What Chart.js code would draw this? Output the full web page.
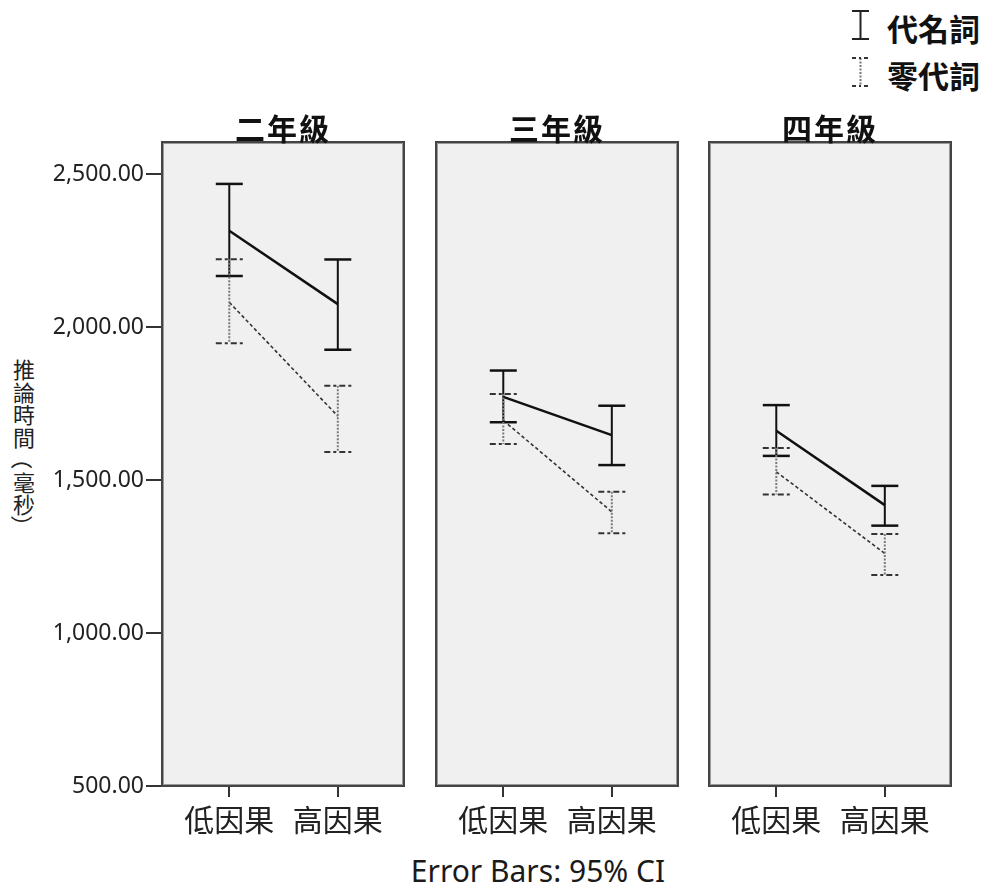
<!DOCTYPE html>
<html>
<head>
<meta charset="utf-8">
<script src="https://cdn.jsdelivr.net/npm/chart.js@4.4.1/dist/chart.umd.min.js"></script>
<style>
  body { margin: 0; background: #fff; width: 988px; height: 895px; position: relative; overflow: hidden;
         font-family: "Noto Sans CJK TC", "Noto Sans", sans-serif; color: #111; }
  canvas { position: absolute; top: 100px; }
  .title { position: absolute; top: 112px; width: 242px; text-align: center; font-size: 30px; line-height: 30px;
           font-weight: bold; letter-spacing: 2px; }
  .legend-text { position: absolute; left: 887px; font-size: 31px; line-height: 31px; font-weight: bold; }
  .legend-icon { position: absolute; left: 846px; }
  #ytitle { position: absolute; left: 12px; top: 357px; width: 24px; font-size: 22px; color: #222; }
  #ytitle span { display: block; height: 22.5px; line-height: 22.5px; text-align: center; }
  #ytitle span.rot { transform: rotate(90deg); }
  #footer { position: absolute; left: 0; width: 1076px; top: 851px; text-align: center; font-family: "Noto Sans", sans-serif;
            font-size: 30px; line-height: 40px; color: #1a1a1a; }
</style>
</head>
<body>
<div id="ytitle"></div>
<svg class="legend-icon" style="top:8px" width="30" height="36">
  <line x1="14.5" y1="3" x2="14.5" y2="31" stroke="#222" stroke-width="2"/>
  <line x1="6" y1="3" x2="23" y2="3" stroke="#222" stroke-width="2"/>
  <line x1="6" y1="31" x2="23" y2="31" stroke="#222" stroke-width="2"/>
</svg>
<svg class="legend-icon" style="top:55px" width="30" height="36">
  <line x1="14.5" y1="3" x2="14.5" y2="31" stroke="#777" stroke-width="2" stroke-dasharray="2 1.5"/>
  <line x1="6" y1="3" x2="23" y2="3" stroke="#333" stroke-width="2" stroke-dasharray="4 3 2 3"/>
  <line x1="6" y1="31" x2="23" y2="31" stroke="#333" stroke-width="2" stroke-dasharray="4 3 2 3"/>
</svg>
<div class="legend-text" style="top:12px">代名詞</div>
<div class="legend-text" style="top:59px">零代詞</div>
<div id="footer">Error Bars: 95% CI</div>

<script>
const GRADES = ['二年級', '三年級', '四年級'];
const CATEGORIES = ['低因果', '高因果'];
const SERIES = ['代名詞', '零代詞'];
const Y_TITLE = '推論時間（毫秒）';
const Y_TICKS = [500, 1000, 1500, 2000, 2500];

// per grade: [低因果, 高因果]
const PRONOUN_MEAN  = [[2315, 2075], [1772, 1647], [1661, 1418]];
const PRONOUN_UPPER = [[2468, 2221], [1858, 1743], [1745, 1481]];
const PRONOUN_LOWER = [[2167, 1926], [1689, 1549], [1579, 1351]];

const ZERO_MEAN  = [[2081, 1709], [1695, 1396], [1527, 1260]];
const ZERO_UPPER = [[2222, 1808], [1781, 1462], [1605, 1324]];
const ZERO_LOWER = [[1947, 1592], [1618, 1326], [1453, 1190]];

const PANEL_LEFT = [162, 436, 709];
const PANEL_WIDTH = 242;

// vertical axis title, one character per line, brackets turned
const ytitle = document.getElementById('ytitle');
Array.from(Y_TITLE).forEach(ch => {
  const s = document.createElement('span');
  s.textContent = ch;
  if (ch === '（' || ch === '）') s.className = 'rot';
  ytitle.appendChild(s);
});

// grey panel background and frame
const panelPlugin = {
  id: 'panel',
  beforeDatasetsDraw(chart) {
    const { ctx, chartArea: a } = chart;
    ctx.save();
    ctx.fillStyle = '#f0f0f0';
    ctx.fillRect(a.left, a.top, a.right - a.left, a.bottom - a.top);
    ctx.restore();
  },
  afterDraw(chart) {
    const { ctx, chartArea: a } = chart;
    ctx.save();
    ctx.strokeStyle = '#9a9a9a';
    ctx.lineWidth = 1;
    ctx.strokeRect(a.left + 1.5, a.top + 1.5, a.right - a.left - 3, a.bottom - a.top - 3);
    ctx.strokeStyle = '#444';
    ctx.lineWidth = 2;
    ctx.strokeRect(a.left, a.top, a.right - a.left, a.bottom - a.top);
    ctx.restore();
  }
};

// 95% CI bars drawn from the dataset's upper/lower arrays
const errorBarPlugin = {
  id: 'errorBars',
  afterDatasetsDraw(chart) {
    const ctx = chart.ctx;
    const xs = chart.scales.x, ys = chart.scales.y;
    chart.data.datasets.forEach(ds => {
      const st = ds.errStyle;
      ds.data.forEach((pt, i) => {
        const px = xs.getPixelForValue(pt.x);
        const top = ys.getPixelForValue(ds.errUpper[i]);
        const bot = ys.getPixelForValue(ds.errLower[i]);
        ctx.save();
        ctx.strokeStyle = st.stemColor;
        ctx.lineWidth = st.stemWidth;
        ctx.setLineDash(st.stemDash);
        ctx.beginPath();
        ctx.moveTo(px, top);
        ctx.lineTo(px, bot);
        ctx.stroke();
        ctx.strokeStyle = st.capColor;
        ctx.lineWidth = st.capWidth;
        ctx.setLineDash(st.capDash);
        [top, bot].forEach(yy => {
          ctx.beginPath();
          ctx.moveTo(px - 13.5, yy);
          ctx.lineTo(px + 13.5, yy);
          ctx.stroke();
        });
        ctx.restore();
      });
    });
  }
};

function points(means) {
  return means.map((v, i) => ({ x: i, y: v }));
}

function makePanel(g) {
  const first = g === 0;
  const canvasLeft = first ? 0 : PANEL_LEFT[g] - 16;
  const canvasWidth = first ? PANEL_LEFT[g] + PANEL_WIDTH + 8 : PANEL_WIDTH + 24;

  const canvas = document.createElement('canvas');
  canvas.width = canvasWidth;
  canvas.height = 745;
  canvas.style.left = canvasLeft + 'px';
  document.body.appendChild(canvas);

  const title = document.createElement('div');
  title.className = 'title';
  title.style.left = PANEL_LEFT[g] + 'px';
  title.innerText = GRADES[g];
  document.body.appendChild(title);

  new Chart(canvas.getContext('2d'), {
    type: 'line',
    data: {
      datasets: [
        {
          label: SERIES[0],
          data: points(PRONOUN_MEAN[g]),
          errUpper: PRONOUN_UPPER[g],
          errLower: PRONOUN_LOWER[g],
          errStyle: { stemColor: '#111', stemWidth: 2, stemDash: [], capColor: '#111', capWidth: 2.5, capDash: [] },
          borderColor: '#111',
          borderWidth: 2.5,
          pointRadius: 0,
        },
        {
          label: SERIES[1],
          data: points(ZERO_MEAN[g]),
          errUpper: ZERO_UPPER[g],
          errLower: ZERO_LOWER[g],
          errStyle: { stemColor: '#7a7a7a', stemWidth: 2, stemDash: [2, 1.5], capColor: '#333', capWidth: 2, capDash: [6, 3, 3, 3] },
          borderColor: '#333',
          borderWidth: 1.6,
          borderDash: [3.5, 2.5],
          pointRadius: 0,
        },
      ]
    },
    options: {
      responsive: false,
      animation: false,
      layout: { padding: { top: 42, left: first ? 0 : 16, right: 8, bottom: 0 } },
      plugins: { legend: { display: false }, tooltip: { enabled: false } },
      scales: {
        x: {
          type: 'linear',
          min: -0.62,
          max: 1.61,
          afterBuildTicks: s => { s.ticks = [{ value: 0 }, { value: 1 }]; },
          afterFit: s => { s.height = 59; s.paddingLeft = 0; s.paddingRight = 0; },
          grid: { drawOnChartArea: false, tickLength: 11, color: '#333', lineWidth: 2 },
          border: { display: false },
          ticks: {
            callback: v => CATEGORIES[v],
            color: '#222',
            padding: 5,
            maxRotation: 0,
            autoSkip: false,
            font: { family: '"Noto Sans CJK TC"', size: 30 },
          },
        },
        y: {
          display: first,
          min: 500,
          max: 2605,
          afterBuildTicks: s => { s.ticks = Y_TICKS.map(v => ({ value: v })); },
          afterFit: s => { s.width = first ? PANEL_LEFT[0] : 0; },
          grid: { drawOnChartArea: false, tickLength: 16, color: '#333', lineWidth: 2 },
          border: { display: false },
          ticks: {
            callback: v => v.toLocaleString('en-US', { minimumFractionDigits: 2 }),
            color: '#222',
            padding: 2,
            font: { family: '"Noto Sans"', size: 23 },
          },
        },
      },
    },
    plugins: [panelPlugin, errorBarPlugin],
  });
}

GRADES.forEach((_, g) => makePanel(g));
</script>
</body>
</html>
